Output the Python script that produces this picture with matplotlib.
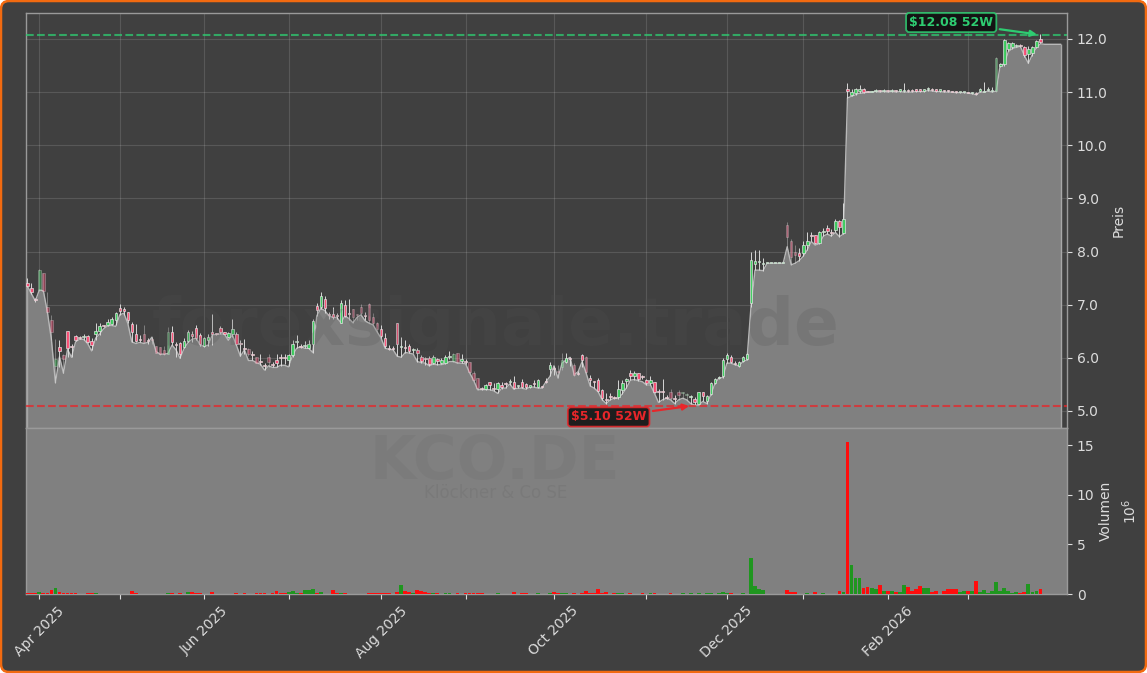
# KCO.DE candles with area line and volume panel
import matplotlib
matplotlib.use("Agg")
import matplotlib.pyplot as plt
from matplotlib.patches import FancyBboxPatch
from matplotlib.transforms import IdentityTransform
import numpy as np

opens = [
    7.41,7.32,7.10,7.28,7.59,6.96,6.71,5.85,6.20,6.05,
    6.51,6.22,6.42,6.39,6.40,6.42,6.31,6.45,6.50,6.60,
    6.62,6.64,6.72,6.94,6.90,6.86,6.63,6.44,6.35,6.45,
    6.32,6.36,6.22,6.20,6.15,6.08,6.48,6.25,6.28,6.20,
    6.32,6.43,6.57,6.43,6.23,6.34,6.48,6.45,6.57,6.48,
    6.40,6.45,6.45,6.27,6.18,6.16,6.07,6.02,5.93,5.85,
    6.01,5.87,5.96,6.01,6.00,5.96,6.05,6.30,6.22,6.23,
    6.19,6.26,6.98,6.96,7.11,6.82,6.82,6.79,6.66,7.00,
    6.84,6.92,6.81,6.96,6.81,7.01,6.76,6.66,6.54,6.37,
    6.18,6.18,6.65,6.20,6.19,6.22,6.14,6.15,6.02,5.98,
    6.00,5.91,5.96,5.91,5.91,6.01,5.94,6.10,5.95,5.93,
    5.93,5.71,5.63,5.43,5.42,5.54,5.43,5.41,5.47,5.52,
    5.55,5.54,5.47,5.54,5.51,5.46,5.51,5.46,5.46,5.55,
    5.79,5.80,5.75,5.82,5.93,5.99,5.87,5.71,6.05,6.01,
    5.63,5.56,5.58,5.39,5.22,5.27,5.25,5.27,5.39,5.57,
    5.71,5.66,5.71,5.65,5.58,5.53,5.54,5.36,5.36,5.26,
    5.36,5.24,5.35,5.33,5.30,5.27,5.22,5.14,5.35,5.19,
    5.32,5.52,5.62,5.65,5.98,6.01,5.90,5.85,5.94,5.98,
    7.04,7.76,7.81,7.77,7.78,7.78,7.78,7.78,7.78,8.50,
    8.19,7.99,7.97,7.97,8.12,8.30,8.31,8.17,8.36,8.44,
    8.36,8.41,8.58,8.34,11.05,10.95,10.98,11.03,11.05,11.02,
    11.01,11.02,11.03,11.02,11.03,11.02,11.03,11.03,11.02,11.03,
    11.03,11.04,11.04,11.03,11.05,11.05,11.04,11.03,11.03,11.03,
    11.02,11.01,11.00,11.00,11.00,10.99,10.99,11.03,11.01,11.04,
    11.02,11.03,11.50,11.52,11.81,11.84,11.87,11.88,11.84,11.71,11.73,11.85,12.00,
]
closes = [
    7.35,7.23,7.08,7.65,7.26,6.86,6.49,5.98,6.13,5.98,
    6.18,6.21,6.33,6.38,6.40,6.30,6.25,6.50,6.60,6.59,
    6.67,6.74,6.84,6.89,6.89,6.71,6.49,6.32,6.34,6.29,
    6.31,6.33,6.10,6.07,6.07,6.49,6.30,6.24,6.07,6.32,
    6.49,6.42,6.37,6.27,6.37,6.40,6.44,6.44,6.49,6.45,
    6.47,6.55,6.27,6.26,6.17,6.08,6.06,5.91,5.92,5.84,
    5.93,5.86,5.90,6.00,5.99,6.05,6.27,6.30,6.21,6.23,
    6.27,6.70,6.90,7.16,6.93,6.81,6.76,6.78,7.03,6.79,
    6.83,6.76,6.80,6.84,6.78,6.72,6.65,6.54,6.42,6.22,
    6.17,6.17,6.26,6.20,6.18,6.12,6.14,6.09,5.95,5.97,
    5.88,6.02,5.95,5.96,6.02,6.01,6.07,5.93,5.95,5.92,
    5.74,5.58,5.43,5.42,5.49,5.49,5.42,5.53,5.46,5.51,
    5.55,5.44,5.47,5.46,5.46,5.46,5.50,5.58,5.45,5.54,
    5.87,5.79,5.74,5.96,5.99,5.98,5.68,5.70,5.96,5.74,
    5.58,5.54,5.38,5.24,5.20,5.26,5.24,5.41,5.52,5.61,
    5.66,5.71,5.60,5.64,5.53,5.58,5.36,5.35,5.35,5.25,
    5.24,5.23,5.30,5.33,5.30,5.27,5.16,5.35,5.29,5.29,
    5.52,5.60,5.62,5.96,6.05,5.92,5.89,5.93,6.01,6.07,
    7.85,7.82,7.81,7.77,7.78,7.78,7.78,7.78,7.78,8.28,
    7.90,7.94,7.92,8.12,8.19,8.29,8.17,8.37,8.36,8.38,
    8.35,8.58,8.46,8.61,11.02,11.00,11.06,11.03,11.00,11.01,
    11.01,11.03,11.02,11.03,11.02,11.03,11.02,11.03,11.03,11.02,
    11.02,11.03,11.03,11.04,11.06,11.04,11.03,11.03,11.02,11.02,
    11.01,11.00,11.00,11.00,10.99,10.99,10.97,11.03,11.02,11.05,
    11.03,11.65,11.50,11.98,11.92,11.93,11.87,11.87,11.69,11.81,11.85,11.97,11.95,
]
highs = [
    7.51,7.41,7.13,7.67,7.60,7.23,6.81,6.35,6.34,6.08,
    6.51,6.27,6.43,6.41,6.45,6.43,6.37,6.65,6.65,6.61,
    6.74,6.77,6.87,7.01,6.96,6.87,6.68,6.64,6.43,6.62,
    6.37,6.40,6.22,6.20,6.22,6.58,6.59,6.30,6.30,6.37,
    6.52,6.51,6.62,6.46,6.40,6.45,6.82,6.47,6.60,6.49,
    6.49,6.74,6.49,6.33,6.35,6.18,6.12,6.02,6.08,5.90,
    6.07,5.93,6.08,6.07,6.08,6.07,6.33,6.43,6.27,6.32,
    6.34,6.73,7.03,7.23,7.16,6.87,6.96,6.84,7.08,7.09,
    7.10,6.92,6.83,7.01,6.87,7.03,6.84,6.68,6.62,6.46,
    6.24,6.22,6.65,6.40,6.34,6.27,6.18,6.18,6.05,6.01,
    6.03,6.05,5.99,5.99,6.05,6.12,6.10,6.10,6.07,5.97,
    5.93,5.76,5.63,5.46,5.51,5.55,5.52,5.55,5.54,5.55,
    5.60,5.65,5.49,5.60,5.52,5.47,5.58,5.60,5.47,5.62,
    5.93,5.85,5.86,6.10,6.10,6.01,5.90,5.76,6.07,6.03,
    5.68,5.57,5.62,5.41,5.33,5.33,5.29,5.58,5.58,5.63,
    5.77,5.76,5.72,5.68,5.61,5.65,5.55,5.41,5.61,5.30,
    5.41,5.30,5.39,5.36,5.33,5.30,5.27,5.36,5.36,5.31,
    5.55,5.63,5.65,5.99,6.10,6.05,5.95,5.95,6.04,6.10,
    8.00,8.03,8.03,7.87,7.78,7.78,7.78,7.78,7.78,8.56,
    8.23,8.12,8.06,8.19,8.36,8.36,8.31,8.39,8.44,8.50,
    8.42,8.61,8.59,8.91,11.17,11.05,11.08,11.13,11.08,11.03,
    11.03,11.05,11.04,11.05,11.04,11.05,11.04,11.05,11.17,11.05,
    11.05,11.05,11.05,11.05,11.10,11.07,11.05,11.04,11.04,11.04,
    11.03,11.02,11.01,11.01,11.01,11.00,11.00,11.07,11.19,11.10,
    11.09,11.67,11.54,12.00,11.95,11.95,11.90,11.90,11.87,11.87,11.87,11.98,12.09,
]
lows = [
    7.33,7.21,7.06,7.26,7.25,6.84,6.34,5.53,5.83,5.71,
    6.02,6.02,6.31,6.35,6.33,6.28,6.15,6.34,6.43,6.58,
    6.60,6.62,6.62,6.81,6.81,6.65,6.30,6.29,6.29,6.29,
    6.27,6.27,6.10,6.05,6.05,6.07,6.24,6.02,5.99,6.18,
    6.30,6.30,6.34,6.22,6.21,6.22,6.24,6.43,6.45,6.44,
    6.38,6.39,6.24,6.03,6.08,6.04,5.96,5.90,5.87,5.77,
    5.83,5.82,5.82,5.85,5.88,5.84,6.02,6.18,6.18,6.18,
    6.17,6.10,6.79,6.91,6.84,6.74,6.74,6.74,6.65,6.76,
    6.71,6.65,6.71,6.78,6.71,6.65,6.62,6.49,6.37,6.18,
    6.15,6.15,6.03,6.01,6.10,6.09,6.09,5.93,5.91,5.87,
    5.85,5.88,5.87,5.88,5.89,5.97,5.93,5.90,5.90,5.89,
    5.71,5.57,5.40,5.40,5.40,5.40,5.38,5.33,5.42,5.43,
    5.49,5.41,5.43,5.43,5.41,5.44,5.45,5.43,5.43,5.52,
    5.65,5.68,5.62,5.78,5.90,5.85,5.66,5.68,5.83,5.71,
    5.47,5.43,5.36,5.21,5.14,5.21,5.22,5.22,5.32,5.43,
    5.58,5.59,5.57,5.60,5.49,5.49,5.33,5.16,5.21,5.22,
    5.21,5.14,5.21,5.24,5.21,5.14,5.11,5.11,5.18,5.14,
    5.30,5.51,5.60,5.63,5.90,5.90,5.87,5.83,5.92,5.96,
    6.96,7.65,7.65,7.64,7.78,7.78,7.78,7.78,7.78,8.09,
    7.75,7.78,7.83,7.91,8.03,8.19,8.14,8.15,8.29,8.33,
    8.29,8.36,8.28,8.33,10.89,10.92,10.95,10.98,10.98,11.00,
    11.00,11.01,11.00,11.01,11.00,11.01,11.00,11.01,11.00,11.00,
    11.00,11.01,11.01,11.01,11.03,11.02,11.01,11.01,11.00,11.00,
    11.00,10.99,10.99,10.99,10.98,10.97,10.95,11.00,11.00,11.02,
    11.00,11.00,11.48,11.50,11.78,11.82,11.84,11.85,11.66,11.54,11.68,11.83,11.92,
]
# volume in millions
volumes = [
    .1,.1,.1,.2,.1,.1,.45,.6,.25,.1,
    .1,.1,.1,.05,0,.1,.1,.1,.05,0,
    0,.05,.03,.05,.05,.05,.35,.1,0,0,
    .05,.05,0,0,.05,.15,.1,.05,.1,0,
    .2,.2,.1,.1,.05,.05,.2,0,0,0,
    .05,.05,.1,.05,.1,0,0,.15,.1,.1,
    0,.15,.3,.15,.1,.2,.3,.1,.1,.4,
    .4,.5,.1,.2,.05,0,.4,.15,.15,.1,
    0,.05,0,.05,0,.1,.1,.1,.15,.1,
    .1,0,.2,.9,.3,.2,.15,.4,.3,.2,
    .15,.1,.1,.05,.1,.1,.05,.1,.05,.1,
    .1,.15,.1,.1,.05,.05,.05,.1,.05,.05,
    .05,.2,.05,.15,.1,.05,.05,.1,.05,.05,
    .1,.2,.1,.15,.1,.05,.1,.05,.1,.35,
    .1,.1,.5,.1,.2,.05,.15,.1,.1,.05,
    .1,.05,.05,.1,.05,.1,.1,.05,.05,.05,
    .1,.05,.05,.1,.05,.1,.05,.1,.05,.1,
    .1,.05,.1,.2,.1,.1,.05,.05,.1,.05,
    3.6,.8,.5,.4,0,0,0,0,0,.4,
    .2,.2,.05,.05,.1,.05,.2,.05,.15,.05,
    .05,.05,.3,.25,15.3,2.95,1.6,1.6,.6,.7,
    .6,.5,.9,.3,.3,.3,.2,.2,.9,.7,
    .3,.5,.8,.6,.6,.2,.3,.05,.3,.5,
    .55,.55,.2,.3,.3,.35,1.3,.2,.4,.1,
    .35,1.2,.3,.6,.3,.1,.2,.1,.2,1.0,.2,.3,.55,
]
# grey area outline, runs 5 days past the last candle
area_line = [
    7.35,7.21,7.07,7.28,7.26,6.86,6.34,5.53,6.02,5.71,
    6.16,6.01,6.30,6.35,6.35,6.27,6.13,6.37,6.45,6.55,
    6.60,6.61,6.59,6.81,6.84,6.65,6.30,6.27,6.29,6.27,
    6.29,6.39,6.12,6.07,6.07,6.08,6.24,6.15,5.99,6.18,
    6.29,6.35,6.37,6.24,6.22,6.24,6.43,6.44,6.45,6.45,
    6.33,6.43,6.24,6.03,6.15,5.95,5.95,5.91,5.88,5.77,
    5.85,5.82,5.82,5.86,5.86,5.83,6.05,6.18,6.21,6.18,
    6.18,6.10,6.79,6.93,6.89,6.79,6.76,6.76,6.66,6.79,
    6.74,6.66,6.76,6.81,6.70,6.65,6.62,6.49,6.37,6.18,
    6.16,6.15,6.03,6.01,6.10,6.09,6.07,5.93,5.91,5.90,
    5.85,5.88,5.87,5.87,5.89,5.93,5.93,5.90,5.90,5.89,
    5.72,5.58,5.40,5.40,5.40,5.40,5.38,5.33,5.43,5.43,
    5.51,5.41,5.43,5.43,5.41,5.45,5.45,5.43,5.43,5.55,
    5.65,5.85,5.62,5.90,5.96,6.01,5.68,5.74,5.93,5.71,
    5.47,5.43,5.36,5.21,5.14,5.21,5.24,5.24,5.32,5.43,
    5.58,5.59,5.57,5.55,5.49,5.49,5.33,5.16,5.21,5.24,
    5.21,5.14,5.21,5.24,5.21,5.14,5.11,5.11,5.18,5.14,
    5.30,5.51,5.62,5.63,5.90,5.90,5.87,5.85,5.93,5.96,
    6.96,7.65,7.65,7.64,7.78,7.78,7.78,7.78,7.78,8.09,
    7.75,7.78,7.83,7.91,8.03,8.19,8.12,8.15,8.29,8.33,
    8.29,8.36,8.28,8.33,10.89,10.92,10.95,10.98,10.98,11.00,
    11.00,11.01,11.00,11.01,11.00,11.01,11.00,11.01,11.00,11.00,
    11.00,11.01,11.01,11.01,11.03,11.02,11.01,11.01,11.00,11.00,
    11.00,10.99,10.99,10.99,10.98,10.97,10.95,11.00,11.00,11.02,
    11.00,11.02,11.52,11.52,11.76,11.82,11.84,11.86,11.69,11.54,11.71,11.84,11.91,
    11.90,11.90,11.90,11.90,11.90,
]

# candles that look washed out in the original
pale_candles = [3,4,5,6,7,9,29,31,32,33,34,35,55,57,60,81,82,83,85,86,87,106,107,110,111,112,
                132,133,136,139,160,162,163,164,189,190,191,241]

# tick positions in trading days, only every second month has a label
month_ticks = [3, 23, 44, 65, 88, 109, 131, 154, 174, 193, 214, 234]
month_labels = ["Apr 2025", "", "Jun 2025", "", "Aug 2025", "", "Oct 2025", "", "Dec 2025", "", "Feb 2026", ""]
price_ticks = [5, 6, 7, 8, 9, 10, 11, 12]
volume_ticks = [0, 5, 10, 15]

year_high = 12.08
year_low = 5.10

BG = "#404040"
PANEL = "#808080"
TXT = "#dcdcdc"
GREEN = "#2ecc71"
RED = "#e8262a"

opens, closes, highs, lows = map(np.array, (opens, closes, highs, lows))
x = np.arange(len(opens))
up = closes >= opens

fig = plt.figure(figsize=(11.47, 6.73), dpi=100, facecolor="white")
W, H = 1147.0, 673.0

# orange rounded frame
frame = FancyBboxPatch((7, 7), W - 14, H - 14, boxstyle="round,pad=6,rounding_size=8",
                       facecolor=BG, edgecolor="#f26a10", linewidth=1.8,
                       transform=IdentityTransform(), zorder=-5)
fig.add_artist(frame)

left, right = 25.5 / W, 1067 / W
ax = fig.add_axes([left, 1 - 428 / H, right - left, 415 / H], facecolor=BG)
ax_vol = fig.add_axes([left, 1 - 594 / H, right - left, 166 / H], facecolor=PANEL, sharex=ax)

# grey area under the line, covers the grid
ax.fill_between(np.arange(len(area_line)), area_line, 4.0, color=PANEL, zorder=2, linewidth=0)
ax.plot(np.arange(len(area_line)), area_line, color="#b8b8b8", lw=1.0, zorder=2.2)
ax.vlines([0, len(area_line) - 1], 4.0, [area_line[0], area_line[-1]], color="#a8a8a8", lw=1.0, zorder=2.2)

# candles
for i in x:
    a = 0.4 if i in pale_candles else 0.95
    body_col = "#3ccf5e" if up[i] else "#ff4f78"
    ax.vlines(i, lows[i], highs[i], color="#dedede", lw=0.7, alpha=a, zorder=3)
    bottom = min(opens[i], closes[i])
    height = max(abs(closes[i] - opens[i]), 0.02)
    ax.bar(i, height, bottom=bottom, width=0.62, color=body_col, edgecolor="#e6e6e6",
           linewidth=0.5, alpha=a, zorder=3.2)

ax.axhline(year_high, color=GREEN, ls="--", lw=1.5, alpha=0.75, zorder=4)
ax.axhline(year_low, color=RED, ls="--", lw=1.5, alpha=0.75, zorder=4)

ax.annotate("$%.2f 52W" % year_high, xy=(251.8, year_high), xytext=(229.8, 12.31),
            color=GREEN, fontsize=9, fontweight="bold", ha="center", va="center", zorder=6,
            bbox=dict(boxstyle="round,pad=0.25", fc="#0d0d0d", ec=GREEN, lw=1.3, alpha=0.85),
            arrowprops=dict(arrowstyle="-|>", color=GREEN, lw=1.6))
ax.annotate("$%.2f 52W" % year_low, xy=(165.3, year_low), xytext=(144.6, 4.887),
            color=RED, fontsize=9, fontweight="bold", ha="center", va="center", zorder=6,
            bbox=dict(boxstyle="round,pad=0.25", fc="#0d0d0d", ec=RED, lw=1.3, alpha=0.85),
            arrowprops=dict(arrowstyle="-|>", color=RED, lw=1.6))

# watermarks
ax.text(0.451, 0.245, "forexsignale.trade", transform=ax.transAxes, fontsize=47.5, fontweight="bold",
        color="#505050", alpha=0.2, ha="center", va="center", zorder=5)
ax_vol.text(0.451, 0.79, "KCO.DE", transform=ax_vol.transAxes, fontsize=43, fontweight="bold",
            color="#505050", alpha=0.09, ha="center", va="center", zorder=5)
ax_vol.text(0.451, 0.61, "Klöckner & Co SE", transform=ax_vol.transAxes, fontsize=12,
            color="#505050", alpha=0.13, ha="center", va="center", zorder=5)

# volume bars
ax_vol.bar(x, volumes, width=0.95, color=np.where(up, "#1f961f", "#ff0d0d"), zorder=3)

ax.set_xlim(-0.45, 258.6)
ax.set_ylim(4.68, 12.489)
ax_vol.set_ylim(0, 16.72)

ax.set_yticks(price_ticks)
ax.set_yticklabels(["%.1f" % p for p in price_ticks])
ax_vol.set_yticks(volume_ticks)
ax_vol.set_xticks(month_ticks)
ax_vol.set_xticklabels(month_labels, rotation=45, ha="center")

ax.grid(True, color="#ffffff", lw=0.8, alpha=0.13, zorder=1)
ax.set_axisbelow(True)
ax.tick_params(axis="x", bottom=False, labelbottom=False)

for a_ in (ax, ax_vol):
    a_.yaxis.tick_right()
    a_.yaxis.set_label_position("right")
    a_.tick_params(colors=TXT, labelsize=10, length=3.5, width=0.8)
    for s in a_.spines.values():
        s.set_color("#9a9a9a")
        s.set_linewidth(1.0)

ax.set_ylabel("Preis", color=TXT, fontsize=10, labelpad=3)
ax_vol.set_ylabel("Volumen\n$10^6$", color=TXT, fontsize=10, labelpad=3, linespacing=1.5)

fig.savefig("out.png", dpi=100, facecolor=fig.get_facecolor())
